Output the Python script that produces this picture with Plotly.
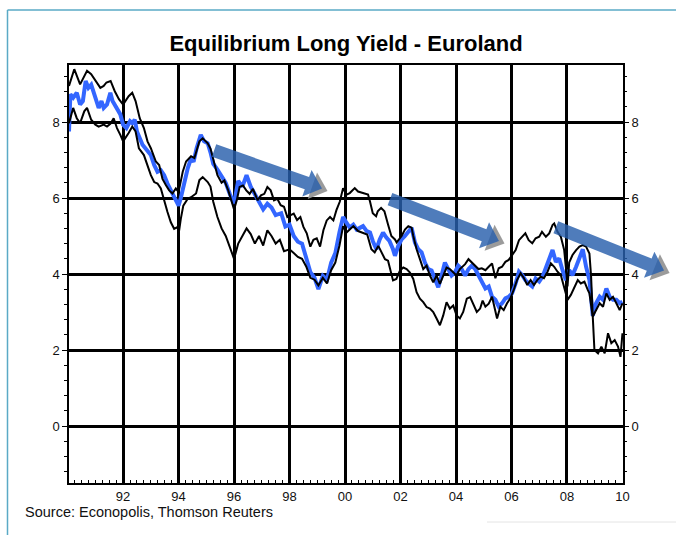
import plotly.graph_objects as go

# ---------------- data ----------------
eq_years = [1990.05,1990.1,1990.2,1990.33,1990.45,1990.55,1990.65,1990.75,1990.85,1991.0,1991.12,1991.22,1991.3,1991.42,1991.54,1991.62,1991.78,1991.9,1992.0,1992.12,1992.25,1992.33,1992.42,1992.5,1992.7,1992.88,1993.0,1993.12,1993.24,1993.36,1993.48,1993.6,1993.72,1993.84,1994.0,1994.08,1994.2,1994.33,1994.45,1994.54,1994.65,1994.8,1994.92,1995.05,1995.15,1995.25,1995.4,1995.55,1995.7,1995.85,1996.0,1996.15,1996.3,1996.45,1996.6,1996.75,1996.9,1997.05,1997.2,1997.35,1997.5,1997.7,1997.85,1998.0,1998.15,1998.3,1998.45,1998.6,1998.75,1998.9,1999.04,1999.2,1999.35,1999.5,1999.65,1999.8,1999.93,2000.05,2000.17,2000.3,2000.42,2000.55,2000.65,2000.78,2000.9,2001.0,2001.13,2001.25,2001.37,2001.49,2001.6,2001.73,2001.8,2001.92,2002.04,2002.16,2002.28,2002.4,2002.52,2002.64,2002.76,2002.88,2003.0,2003.12,2003.24,2003.36,2003.48,2003.6,2003.72,2003.84,2003.96,2004.08,2004.2,2004.33,2004.45,2004.57,2004.69,2004.81,2004.93,2005.06,2005.18,2005.3,2005.42,2005.54,2005.66,2005.78,2005.9,2006.02,2006.15,2006.27,2006.39,2006.5,2006.62,2006.75,2006.87,2007.0,2007.12,2007.24,2007.36,2007.48,2007.6,2007.72,2007.84,2007.96,2008.08,2008.2,2008.33,2008.45,2008.57,2008.69,2008.81,2008.93,2009.05,2009.18,2009.3,2009.42,2009.54,2009.66,2009.78,2009.9,2010.0]
eq_values = [7.75,8.73,8.64,8.77,8.46,8.55,9.08,8.9,8.98,8.64,8.37,8.55,8.37,8.46,8.77,8.55,8.37,8.2,7.93,7.84,8.02,7.97,8.06,7.75,7.4,7.22,7.13,6.87,6.69,6.73,6.6,6.38,6.2,6.03,5.8,6.0,6.42,6.78,7.04,6.95,7.31,7.66,7.49,7.44,7.2,6.9,6.75,6.55,6.4,6.1,5.85,6.45,6.3,6.6,6.3,6.1,5.9,5.7,5.85,5.75,5.55,5.6,5.25,5.3,5.0,4.85,4.8,4.45,4.05,3.9,3.6,3.95,3.85,4.3,4.55,5.1,5.5,5.35,5.22,5.3,5.17,5.22,5.26,5.13,5.09,4.87,4.65,4.91,5.09,4.96,4.87,4.65,4.48,4.74,4.91,5.0,5.13,5.22,4.83,4.65,4.57,4.3,4.13,4.09,3.87,3.65,3.96,4.3,4.13,3.96,4.04,4.22,4.13,3.96,4.13,4.22,4.13,3.96,3.75,3.62,3.67,3.4,3.32,3.14,3.23,3.36,3.4,3.49,3.75,4.06,3.97,3.84,3.75,3.67,3.88,3.8,3.93,4.19,4.37,4.63,4.32,4.41,4.1,3.84,4.1,3.97,4.19,4.41,4.65,4.19,3.84,2.9,3.23,3.4,3.32,3.62,3.4,3.32,3.32,3.23,3.27]

upper_years = [1990.05,1990.24,1990.45,1990.7,1990.85,1991.05,1991.18,1991.3,1991.4,1991.55,1991.7,1991.85,1992.0,1992.2,1992.33,1992.45,1992.6,1992.75,1992.88,1993.0,1993.18,1993.3,1993.42,1993.54,1993.66,1993.78,1993.9,1994.0,1994.15,1994.27,1994.45,1994.57,1994.75,1994.87,1995.05,1995.15,1995.25,1995.4,1995.55,1995.65,1995.79,1995.9,1996.0,1996.1,1996.2,1996.32,1996.44,1996.56,1996.68,1996.85,1996.97,1997.09,1997.2,1997.32,1997.44,1997.56,1997.68,1997.8,1997.92,1998.04,1998.15,1998.27,1998.39,1998.5,1998.62,1998.75,1998.86,1998.98,1999.1,1999.22,1999.34,1999.46,1999.58,1999.69,1999.81,1999.93,2000.05,2000.17,2000.35,2000.47,2000.65,2000.83,2000.9,2001.0,2001.12,2001.18,2001.3,2001.42,2001.55,2001.67,2001.8,2001.86,2002.04,2002.16,2002.28,2002.4,2002.46,2002.58,2002.7,2002.82,2002.94,2003.06,2003.18,2003.3,2003.42,2003.54,2003.66,2003.78,2003.9,2004.02,2004.14,2004.33,2004.45,2004.57,2004.69,2004.81,2004.93,2005.06,2005.18,2005.3,2005.42,2005.54,2005.66,2005.78,2005.9,2006.02,2006.15,2006.27,2006.39,2006.5,2006.62,2006.75,2006.87,2007.0,2007.1,2007.24,2007.36,2007.48,2007.54,2007.66,2007.78,2007.9,2007.96,2008.02,2008.08,2008.2,2008.33,2008.45,2008.57,2008.69,2008.81,2008.87,2008.93,2008.99,2009.12,2009.24,2009.36,2009.48,2009.6,2009.72,2009.84,2009.93,2010.0]
upper_values = [8.95,9.39,8.99,9.35,9.26,9.04,8.9,8.95,9.04,9.08,8.81,8.6,8.46,8.68,8.77,8.55,8.1,7.84,7.49,7.31,6.96,6.87,6.5,6.34,6.2,6.12,6.25,6.16,6.69,6.96,7.1,7.05,7.49,7.57,7.44,7.3,7.0,6.6,6.4,6.46,6.2,5.94,5.7,5.95,6.29,6.33,6.2,6.11,6.24,5.94,6.07,6.11,6.29,6.2,5.94,5.98,5.81,5.77,5.5,5.55,5.59,5.42,5.5,5.24,5.07,4.72,4.9,4.94,4.72,5.15,5.41,5.5,5.41,5.68,5.9,6.26,6.09,6.13,6.26,6.17,6.13,6.09,5.91,5.6,5.52,5.65,5.74,5.65,5.3,5.0,4.91,4.83,5.0,5.17,5.26,5.22,5.0,4.65,4.39,4.13,4.22,3.96,3.78,3.96,3.74,3.96,4.17,4.13,4.04,3.96,4.13,4.26,4.39,4.3,4.22,4.13,4.15,4.1,4.19,4.28,3.89,4.15,4.19,4.32,4.37,4.5,4.63,4.89,4.98,5.07,4.89,4.81,4.94,4.98,5.11,4.98,5.07,5.29,5.33,5.11,4.98,4.63,4.19,3.67,4.3,4.5,4.63,4.72,4.76,4.72,4.54,3.93,2.88,2.0,1.91,2.09,1.91,2.44,2.18,2.26,2.09,1.82,2.44]

lower_years = [1990.05,1990.2,1990.33,1990.45,1990.6,1990.7,1990.85,1991.0,1991.12,1991.3,1991.42,1991.54,1991.66,1991.78,1991.9,1992.0,1992.2,1992.33,1992.45,1992.57,1992.75,1992.88,1993.0,1993.12,1993.24,1993.36,1993.48,1993.6,1993.72,1993.84,1993.94,1994.02,1994.08,1994.17,1994.33,1994.45,1994.63,1994.75,1994.87,1995.05,1995.15,1995.25,1995.4,1995.55,1995.7,1995.85,1996.0,1996.15,1996.3,1996.45,1996.6,1996.75,1996.9,1997.05,1997.2,1997.35,1997.5,1997.65,1997.8,1998.0,1998.15,1998.3,1998.45,1998.6,1998.75,1998.9,1999.04,1999.2,1999.35,1999.5,1999.65,1999.8,1999.93,2000.05,2000.17,2000.3,2000.47,2000.65,2000.8,2000.95,2001.07,2001.2,2001.32,2001.44,2001.55,2001.67,2001.73,2001.85,2001.98,2002.1,2002.22,2002.34,2002.46,2002.58,2002.7,2002.82,2002.94,2003.06,2003.18,2003.3,2003.42,2003.54,2003.66,2003.78,2003.9,2004.02,2004.14,2004.26,2004.39,2004.51,2004.63,2004.75,2004.87,2004.96,2005.06,2005.18,2005.3,2005.42,2005.48,2005.6,2005.72,2005.84,2005.96,2006.08,2006.2,2006.33,2006.45,2006.57,2006.69,2006.81,2006.93,2007.05,2007.17,2007.3,2007.42,2007.54,2007.66,2007.78,2007.9,2008.02,2008.14,2008.27,2008.39,2008.5,2008.63,2008.75,2008.81,2008.93,2009.05,2009.18,2009.3,2009.42,2009.54,2009.66,2009.78,2009.9,2010.0]
lower_values = [7.97,8.37,8.1,7.97,8.28,8.37,8.06,7.93,7.88,7.93,7.88,7.95,8.1,7.84,7.66,7.49,7.71,7.88,7.75,7.31,7.13,6.87,6.6,6.42,6.38,6.25,5.9,5.63,5.36,5.19,5.23,5.14,5.45,5.8,5.98,6.02,6.12,6.47,6.55,6.42,6.3,5.9,5.5,5.2,5.0,4.7,4.4,4.8,5.0,5.2,5.05,4.8,5.0,4.75,5.15,5.0,4.8,4.9,4.6,4.65,4.55,4.45,4.4,4.2,3.9,3.85,3.7,3.9,3.75,4.1,4.3,4.75,5.26,5.09,5.17,5.26,5.13,5.09,5.04,4.65,4.57,4.74,4.57,4.39,4.35,3.96,3.83,3.87,4.09,4.17,4.13,4.04,3.87,3.52,3.35,3.26,3.13,3.09,3.0,2.83,2.65,2.91,3.26,3.09,3.17,2.91,2.83,3.0,3.35,3.39,3.17,3.0,3.09,3.3,3.14,3.22,3.4,2.96,2.83,3.14,3.05,3.23,3.36,3.58,3.84,4.02,3.89,3.71,3.84,3.71,3.84,3.93,3.89,4.06,4.28,4.19,4.06,3.97,3.67,3.32,3.45,3.67,3.84,3.75,3.8,3.58,3.49,2.88,3.05,3.23,3.14,3.49,3.32,3.4,3.23,3.05,3.23]

x_tick_vals = [1992, 1994, 1996, 1998, 2000, 2002, 2004, 2006, 2008, 2010]
x_tick_text = ["92", "94", "96", "98", "00", "02", "04", "06", "08", "10"]
y_tick_vals = [0, 2, 4, 6, 8]

# trend arrows: (start year, start value, end year, end value)
arrow_starts = [(1995.28, 7.25), (2001.62, 5.97), (2007.60, 5.23)]
arrow_ends = [(1999.17, 6.25), (2005.55, 4.87), (2011.50, 4.09)]

title_text = "Equilibrium Long Yield - Euroland"
source_text = "Source: Econopolis, Thomson Reuters"

# ---------------- layout geometry ----------------
W, H = 676, 535
ML, MR, MT, MB = 69, 53, 65, 52
PW, PH = W - ML - MR, H - MT - MB
X_RANGE = [1990.05, 2010.02]
Y_RANGE = [-1.5, 9.5]


def to_px(xv, yv):
    px = ML + (xv - X_RANGE[0]) / (X_RANGE[1] - X_RANGE[0]) * PW
    py = MT + PH - (yv - Y_RANGE[0]) / (Y_RANGE[1] - Y_RANGE[0]) * PH
    return px, py


def px_to_paper(px, py):
    return (px - ML) / PW, (MT + PH - py) / PH


def path_from_px(points):
    pts = [px_to_paper(px, py) for px, py in points]
    return "M " + " L ".join(f"{a:.5f},{b:.5f}" for a, b in pts) + " Z"


def arrow_polys(start, end, hw=6.5, hh=14.0, hl=16.0, shadow=(5.5, 2.5)):
    sx, sy = to_px(*start)
    ex, ey = to_px(*end)
    dx, dy = ex - sx, ey - sy
    L = (dx * dx + dy * dy) ** 0.5
    ux, uy = dx / L, dy / L
    nx, ny = -uy, ux
    bx, by = ex - ux * hl, ey - uy * hl
    body = [
        (sx + nx * hw, sy + ny * hw),
        (bx + nx * hw, by + ny * hw),
        (bx + nx * hh, by + ny * hh),
        (ex, ey),
        (bx - nx * hh, by - ny * hh),
        (bx - nx * hw, by - ny * hw),
        (sx - nx * hw, sy - ny * hw),
    ]
    ox, oy = shadow
    head = [
        (bx + nx * hh + ox, by + ny * hh + oy),
        (ex + ox, ey + oy),
        (bx - nx * hh + ox, by - ny * hh + oy),
    ]
    return body, head


fig = go.Figure()
fig.add_trace(go.Scatter(x=eq_years, y=eq_values, mode="lines",
                         line=dict(color="#3366ff", width=4), name="Equilibrium"))
fig.add_trace(go.Scatter(x=upper_years, y=upper_values, mode="lines",
                         line=dict(color="black", width=2), name="Upper"))
fig.add_trace(go.Scatter(x=lower_years, y=lower_values, mode="lines", yaxis="y2",
                         line=dict(color="black", width=2), name="Lower"))

shapes = []
for st, en in zip(arrow_starts, arrow_ends):
    body, head = arrow_polys(st, en)
    shapes.append(dict(type="path", xref="paper", yref="paper", path=path_from_px(head),
                       fillcolor="rgba(150,150,150,0.95)", line=dict(width=0), layer="above"))
    shapes.append(dict(type="path", xref="paper", yref="paper", path=path_from_px(body),
                       fillcolor="rgba(40,95,172,0.82)", line=dict(width=0), layer="above"))

# light frame around the slide area
fx0, fy0 = px_to_paper(7.5, 10)
fx1, fy1 = px_to_paper(676, 535)
shapes.append(dict(type="line", xref="paper", yref="paper", x0=fx0, y0=fy0, x1=fx0, y1=fy1,
                   line=dict(color="#5aaac6", width=1.5)))
shapes.append(dict(type="line", xref="paper", yref="paper", x0=fx0, y0=fy0, x1=fx1, y1=fy0,
                   line=dict(color="#5aaac6", width=1.5)))
gx0, gy0 = px_to_paper(487, 522)
gx1, _ = px_to_paper(676, 522)
shapes.append(dict(type="line", xref="paper", yref="paper", x0=gx0, y0=gy0, x1=gx1, y1=gy0,
                   line=dict(color="#e4e4e4", width=1)))

sx_, sy_ = px_to_paper(23, 512)

tick_font = dict(family="Liberation Sans, Arial, sans-serif", size=13, color="#111111")

fig.update_layout(
    width=W, height=H,
    margin=dict(l=ML, r=MR, t=MT, b=MB),
    paper_bgcolor="white", plot_bgcolor="white",
    showlegend=False,
    title=dict(text=f"<b>{title_text}</b>", x=0.5, xref="paper", xanchor="center",
               y=1 - 43 / H, yref="container", yanchor="middle",
               font=dict(family="Liberation Sans, Arial, sans-serif", size=22, color="black")),
    xaxis=dict(range=X_RANGE, tickvals=x_tick_vals, ticktext=x_tick_text,
               showgrid=True, gridcolor="black", gridwidth=3,
               showline=True, linecolor="black", linewidth=2, mirror=True,
               ticks="inside", ticklen=4, tickcolor="black", tickfont=tick_font,
               minor=dict(dtick=0.25, ticks="inside", ticklen=3, tickcolor="black", showgrid=False),
               zeroline=False),
    yaxis=dict(range=Y_RANGE, tickvals=y_tick_vals,
               showgrid=True, gridcolor="black", gridwidth=3,
               zeroline=True, zerolinecolor="black", zerolinewidth=3,
               showline=True, linecolor="black", linewidth=1.5, mirror=True,
               ticks="outside", ticklen=5, tickcolor="black", tickfont=tick_font,
               minor=dict(dtick=0.4, ticks="outside", ticklen=3, tickcolor="black", showgrid=False)),
    yaxis2=dict(range=Y_RANGE, tickvals=y_tick_vals, overlaying="y", side="right",
                showgrid=False, zeroline=False, showline=False,
                ticks="outside", ticklen=5, tickcolor="black", tickfont=tick_font,
                minor=dict(dtick=0.4, ticks="outside", ticklen=3, tickcolor="black")),
    shapes=shapes,
    annotations=[dict(text=source_text, xref="paper", yref="paper", x=sx_, y=sy_,
                      xanchor="left", yanchor="middle", showarrow=False,
                      font=dict(family="Liberation Sans, Arial, sans-serif", size=14.5,
                                color="#111111"))],
)

# remove the browser's default 8px body margin so the figure sits at the page origin
fig.write_html("out.html", config={"displayModeBar": False},
               post_script="document.body.style.margin='0';")
